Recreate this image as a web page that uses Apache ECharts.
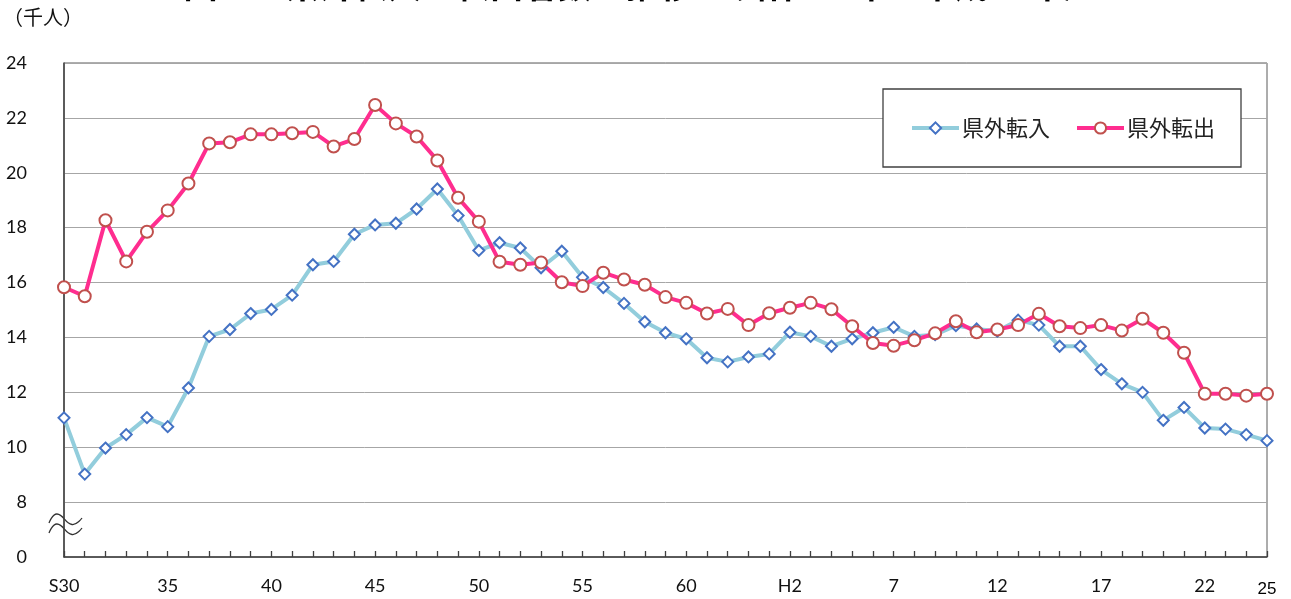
<!DOCTYPE html>
<html>
<head>
<meta charset="utf-8">
<script src="https://cdn.jsdelivr.net/npm/echarts@6/dist/echarts.min.js"></script>
<style>
html,body{margin:0;padding:0;background:#fff;}
#c{width:1291px;height:599px;}
</style>
</head>
<body>
<div id="c"></div>
<script>
const years = ['S30','S31','S32','S33','S34','S35','S36','S37','S38','S39',
  'S40','S41','S42','S43','S44','S45','S46','S47','S48','S49',
  'S50','S51','S52','S53','S54','S55','S56','S57','S58','S59',
  'S60','S61','S62','S63','H1','H2','H3','H4','H5','H6',
  'H7','H8','H9','H10','H11','H12','H13','H14','H15','H16',
  'H17','H18','H19','H20','H21','H22','H23','H24','H25'];
const tickLabels = {'S30':'S30','S35':'35','S40':'40','S45':'45','S50':'50','S55':'55',
  'S60':'60','H2':'H2','H7':'7','H12':'12','H17':'17','H22':'22','H25':'25'};
const inflow = [11.07,9.02,9.97,10.46,11.08,10.75,12.16,14.04,14.29,14.87,
  15.02,15.54,16.65,16.77,17.76,18.10,18.16,18.68,19.41,18.44,
  17.17,17.45,17.26,16.54,17.14,16.19,15.82,15.24,14.57,14.17,
  13.95,13.26,13.11,13.29,13.40,14.19,14.04,13.68,13.95,14.17,
  14.37,14.04,14.10,14.43,14.31,14.23,14.63,14.45,13.68,13.68,
  12.83,12.31,12.00,10.98,11.45,10.70,10.66,10.46,10.24];
const outflow = [15.83,15.50,18.27,16.77,17.85,18.63,19.61,21.07,21.11,21.40,
  21.40,21.44,21.49,20.96,21.23,22.47,21.80,21.32,20.45,19.09,
  18.22,16.76,16.65,16.73,16.01,15.87,16.36,16.11,15.92,15.47,
  15.26,14.87,15.04,14.45,14.88,15.08,15.26,15.03,14.41,13.80,
  13.70,13.90,14.15,14.59,14.19,14.29,14.45,14.86,14.41,14.34,
  14.45,14.25,14.68,14.17,13.44,11.95,11.95,11.88,11.95];
const seriesNames = ['県外転入','県外転出'];
const unitLabel = '（千人）';
const titleText = '図１　県外転入・転出者数の推移　（昭和30年～平成25年）';

const chart = echarts.init(document.getElementById('c'));
const numFont = 'Lato, "Open Sans", sans-serif';
const cjkFont = '"Noto Sans CJK JP", sans-serif';

const axisData = years.map(function (y) {
  return y === 'H25'
    ? {value: y, textStyle: {fontFamily: 'Liberation Sans, Arial', fontSize: 17, color: '#000', padding: [4,0,0,0]}}
    : y;
});

chart.setOption({
  animation: false,
  backgroundColor: '#fff',
  grid: {left: 64, right: 24, top: 63, bottom: 42, show: true,
    borderColor: '#5a5a5a', borderWidth: 1, backgroundColor: 'transparent'},
  legend: {
    left: 883, top: 89,
    padding: [28, 26, 28, 27],
    itemGap: 25, itemWidth: 47, itemHeight: 14,
    backgroundColor: '#fff', borderColor: '#404040', borderWidth: 1.3,
    lineStyle: {width: 4},
    textStyle: {fontFamily: cjkFont, fontSize: 22, color: '#222', padding: [0,0,0,-2]},
    data: seriesNames.map(function (n) { return {name: n, lineStyle: {width: 4}}; })
  },
  xAxis: {
    type: 'category', data: axisData, boundaryGap: false,
    axisLine: {lineStyle: {color: '#404040', width: 1.5}},
    axisTick: {show: true, inside: true, length: 6, interval: 0,
      lineStyle: {color: '#404040', width: 1.3}},
    axisLabel: {
      interval: function (i, v) { return tickLabels[v] !== undefined; },
      formatter: function (v) { return tickLabels[v] || ''; },
      margin: 20, fontFamily: numFont, fontSize: 18, color: '#111'
    },
    splitLine: {show: false}
  },
  yAxis: {
    type: 'value', min: 6, max: 24, interval: 2,
    axisLine: {show: true, lineStyle: {color: '#404040', width: 1.5}},
    axisTick: {show: false},
    axisLabel: {
      formatter: function (v) { return v === 6 ? '0' : String(v); },
      margin: 37, fontFamily: numFont, fontSize: 18, color: '#111'
    },
    splitLine: {lineStyle: {color: '#a6a6a6', width: 1}}
  },
  series: [
    {
      name: seriesNames[0], type: 'line', data: inflow,
      symbol: 'diamond', symbolSize: 11, showAllSymbol: true,
      lineStyle: {color: '#92cddc', width: 4},
      itemStyle: {color: '#fff', borderColor: '#4472c4', borderWidth: 2},
      emphasis: {disabled: true}
    },
    {
      name: seriesNames[1], type: 'line', data: outflow,
      symbol: 'circle', symbolSize: 12, showAllSymbol: true,
      lineStyle: {color: '#ff2d8f', width: 4},
      itemStyle: {color: '#fff', borderColor: '#c0504d', borderWidth: 2},
      emphasis: {disabled: true}
    }
  ],
  graphic: [
    {type: 'text', left: 3, top: 7,
      style: {text: unitLabel, fontFamily: cjkFont, fontSize: 20, fill: '#111'}},
    {type: 'text', x: 640, y: -15,
      style: {text: titleText, fontFamily: cjkFont, fontSize: 34, fontWeight: 'bold',
        fill: '#000', textAlign: 'center', textVerticalAlign: 'middle'}},
    {type: 'polyline', shape: {points: [[49,523],[57,514],[72,524.5],[82,518]], smooth: 0.5},
      style: {stroke: '#333', lineWidth: 1.3, fill: null}},
    {type: 'polyline', shape: {points: [[49,533],[57,524],[72,534.5],[82,528]], smooth: 0.5},
      style: {stroke: '#333', lineWidth: 1.3, fill: null}}
  ]
});
</script>
</body>
</html>
